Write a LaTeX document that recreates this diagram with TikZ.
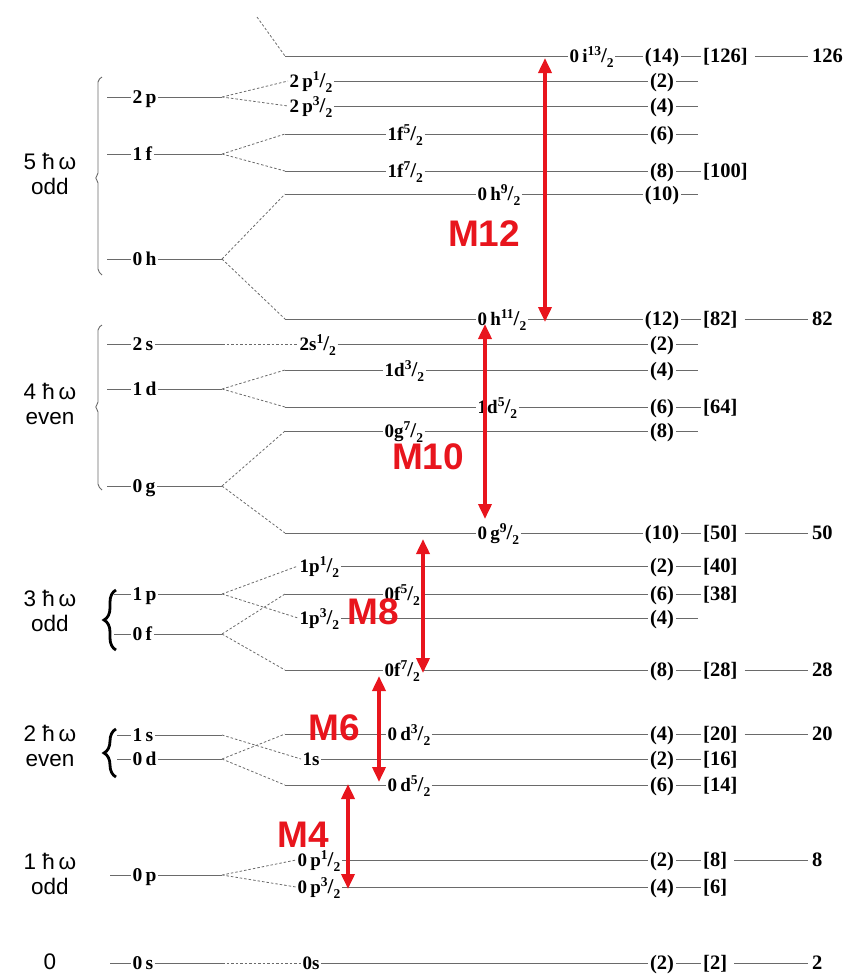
\documentclass[tikz,border=0pt]{standalone}
\usepackage{fontspec}
\setmainfont{Liberation Serif}
\newfontfamily\sansf{Liberation Sans}
\usetikzlibrary{arrows.meta,decorations.pathreplacing}
\definecolor{lg}{HTML}{6A6A6A}
\definecolor{mred}{HTML}{E8151D}
\newcommand\fr[2]{\raisebox{0.36em}{\fontsize{13.5}{13.5}\selectfont#1}{\fontsize{21}{21}\selectfont/}\raisebox{-0.25em}{\fontsize{13.5}{13.5}\selectfont#2}}
% left level: name, y, xstart, text
\newcommand\LL[4]{%
  \node[llab,anchor=west] (#1) at (131,#2) {#4};
  \coordinate (#1s) at (#3,#2);
  \coordinate (#1e) at (222,#2);
  \draw[lev] (#1s) -- (#1.west) (#1.east) -- (#1e);}
% right level: name, y, label x, text, N
\newcommand\RL[5]{%
  \node[rlab,anchor=west] (#1) at (#3,#2) {#4};
  \node[num] (#1n) at (662,#2) {(#5)};
  \draw[lev] (#1.east) -- (#1n.west);}
\newcommand\RS[2]{\coordinate (#1c) at (285,#2); \draw[lev] (#1c) -- (#1.west);}
\newcommand\RT[2]{\coordinate (#1t) at (698,#2); \draw[lev] (#1n.east) -- (#1t);}
\newcommand\RB[3]{\node[num,anchor=west] (#1b) at (701,#2) {[#3]}; \draw[lev] (#1n.east) -- (#1b.west);}
\newcommand\RG[3]{\node[num,anchor=west] (#1g) at (810,#2) {#3}; \draw[lev,shorten <=5pt,shorten >=2pt] (#1b.east) -- (#1g.west);}
\begin{document}
\begin{tikzpicture}[x=1pt,y=-1pt,
  lev/.style={draw=lg, line width=0.9pt},
  conn/.style={draw=lg, line width=0.8pt, dash pattern=on 2.5pt off 2pt},
  llab/.style={font={\fontsize{19.5}{19.5}\selectfont\bfseries}, inner sep=1.5pt, text height=13pt, text depth=0pt},
  rlab/.style={font={\fontsize{19}{19}\selectfont\bfseries}, inner sep=1.5pt, text height=12.8pt, text depth=0pt},
  num/.style={font={\fontsize{20.5}{20.5}\selectfont\bfseries}, inner sep=2pt, text height=13.8pt, text depth=0pt},
  osc/.style={font={\sansf\fontsize{22.5}{25}\selectfont}, align=center, inner sep=0pt},
  mlab/.style={font={\sansf\fontsize{37}{37}\selectfont\bfseries}, text=mred, inner sep=0pt},
  marr/.style={draw=mred, line width=3.6pt, {Triangle[length=15pt,width=13pt]}-{Triangle[length=15pt,width=13pt]}},
  brk/.style={draw=lg, line width=0.9pt, rounded corners=2pt},
  bbrace/.style={decorate, decoration={brace, amplitude=12pt}, line width=2.8pt, draw=black}]
\useasboundingbox (0,0) rectangle (847,975);

% oscillator shell labels
\node[osc] (o5) at (50,174) {5 ħ\,ω\\odd};
\node[osc] (o4) at (50,404) {4 ħ\,ω\\even};
\node[osc] (o3) at (50,611) {3 ħ\,ω\\odd};
\node[osc] (o2) at (50,746) {2 ħ\,ω\\even};
\node[osc] (o1) at (50,874) {1 ħ\,ω\\odd};
\node[osc] (o0) at (50,962) {0};

% brackets
\draw[brk] (102,77) -- (98,80) -- (98,175) -- (95,178) -- (98,181) -- (98,271) -- (102,275);
\draw[brk] (102,325) -- (98,328) -- (98,404) -- (95,407) -- (98,410) -- (98,486) -- (102,490);
\draw[bbrace] (116,650) -- (116,590);
\draw[bbrace] (116,777) -- (116,729);

% left levels
\LL{Lp}{97}{107}{2\,p}
\LL{Lf}{154}{107}{1\,f}
\LL{Lh}{259}{107}{0\,h}
\LL{Ls}{344}{107}{2\,s}
\LL{Ld}{389}{107}{1\,d}
\LL{Lg}{486}{107}{0\,g}
\LL{Lpp}{594}{114}{1\,p}
\LL{Lff}{634}{114}{0\,f}
\LL{Lss}{735}{117}{1\,s}
\LL{Ldd}{759}{117}{0\,d}
\LL{Lp0}{875}{110}{0\,p}
\LL{Ls0}{963}{110}{0\,s}

% right levels
\RL{iA}{56}{568}{0\,i\fr{13}{2}}{14} \RS{iA}{56} \RB{iA}{56}{126} \RG{iA}{56}{126}
\RL{pA}{81}{288}{2\,p\fr12}{2} \RT{pA}{81}
\RL{pB}{106}{288}{2\,p\fr32}{4} \RT{pB}{106}
\RL{fA}{134}{386}{1f\fr52}{6} \RS{fA}{134} \RT{fA}{134}
\RL{fB}{171}{386}{1f\fr72}{8} \RS{fB}{171} \RB{fB}{171}{100}
\RL{hA}{194}{476}{0\,h\fr92}{10} \RS{hA}{194} \RT{hA}{194}
\RL{hB}{319}{476}{0\,h\fr{11}2}{12} \RS{hB}{319} \RB{hB}{319}{82} \RG{hB}{319}{82}
\RL{sA}{344}{298}{2s\fr12}{2} \RT{sA}{344}
\RL{dA}{370}{383}{1d\fr32}{4} \RS{dA}{370} \RT{dA}{370}
\RL{dB}{407}{476}{1d\fr52}{6} \RS{dB}{407} \RB{dB}{407}{64}
\RL{gA}{431}{383}{0g\fr72}{8} \RS{gA}{431} \RT{gA}{431}
\RL{gB}{533}{476}{0\,g\fr92}{10} \RS{gB}{533} \RB{gB}{533}{50} \RG{gB}{533}{50}
\RL{pC}{566}{298}{1p\fr12}{2} \RB{pC}{566}{40}
\RL{fC}{594}{383}{0f\fr52}{6} \RS{fC}{594} \RB{fC}{594}{38}
\RL{pD}{618}{298}{1p\fr32}{4} \RT{pD}{618}
\RL{fD}{670}{383}{0f\fr72}{8} \RS{fD}{670} \RB{fD}{670}{28} \RG{fD}{670}{28}
\RL{dC}{734}{386}{0\,d\fr32}{4} \RS{dC}{734} \RB{dC}{734}{20} \RG{dC}{734}{20}
\RL{sB}{759}{301}{1s}{2} \RB{sB}{759}{16}
\RL{dD}{785}{386}{0\,d\fr52}{6} \RS{dD}{785} \RB{dD}{785}{14}
\RL{pE}{860}{296}{0\,p\fr12}{2} \RB{pE}{860}{8} \RG{pE}{860}{8}
\RL{pF}{887}{296}{0\,p\fr32}{4} \RB{pF}{887}{6}
\RL{sC}{963}{301}{0s}{2} \RB{sC}{963}{2} \RG{sC}{963}{2}

% splitting connectors
\coordinate (topd) at (257,17);
\draw[conn] (topd) -- (iAc);
\draw[conn] (Lpe) -- (pA.west) (Lpe) -- (pB.west);
\draw[conn] (Lfe) -- (fAc) (Lfe) -- (fBc);
\draw[conn] (Lhe) -- (hAc) (Lhe) -- (hBc);
\draw[conn] (Lse) -- (sA.west);
\draw[conn] (Lde) -- (dAc) (Lde) -- (dBc);
\draw[conn] (Lge) -- (gAc) (Lge) -- (gBc);
\draw[conn] (Lppe) -- (pC.west) (Lppe) -- (pD.west);
\draw[conn] (Lffe) -- (fCc) (Lffe) -- (fDc);
\draw[conn] (Lsse) -- (sB.west);
\draw[conn] (Ldde) -- (dCc) (Ldde) -- (dDc);
\draw[conn] (Lp0e) -- (pE.west) (Lp0e) -- (pF.west);
\draw[conn] (Ls0e) -- (sC.west);

% red transition arrows
\coordinate (a12t) at (545,58);  \coordinate (a12b) at (545,322);
\coordinate (a10t) at (485,324); \coordinate (a10b) at (485,519);
\coordinate (a8t) at (423,539);  \coordinate (a8b) at (423,673);
\coordinate (a6t) at (379,676);  \coordinate (a6b) at (379,782);
\coordinate (a4t) at (348,784);  \coordinate (a4b) at (348,889);
\draw[marr] (a12t) -- (a12b);
\draw[marr] (a10t) -- (a10b);
\draw[marr] (a8t) -- (a8b);
\draw[marr] (a6t) -- (a6b);
\draw[marr] (a4t) -- (a4b);
\node[mlab] (m12) at (484,234) {M12};
\node[mlab] (m10) at (428,457) {M10};
\node[mlab] (m8) at (373,612) {M8};
\node[mlab] (m6) at (334,728) {M6};
\node[mlab] (m4) at (303,835) {M4};
\end{tikzpicture}
\end{document}
